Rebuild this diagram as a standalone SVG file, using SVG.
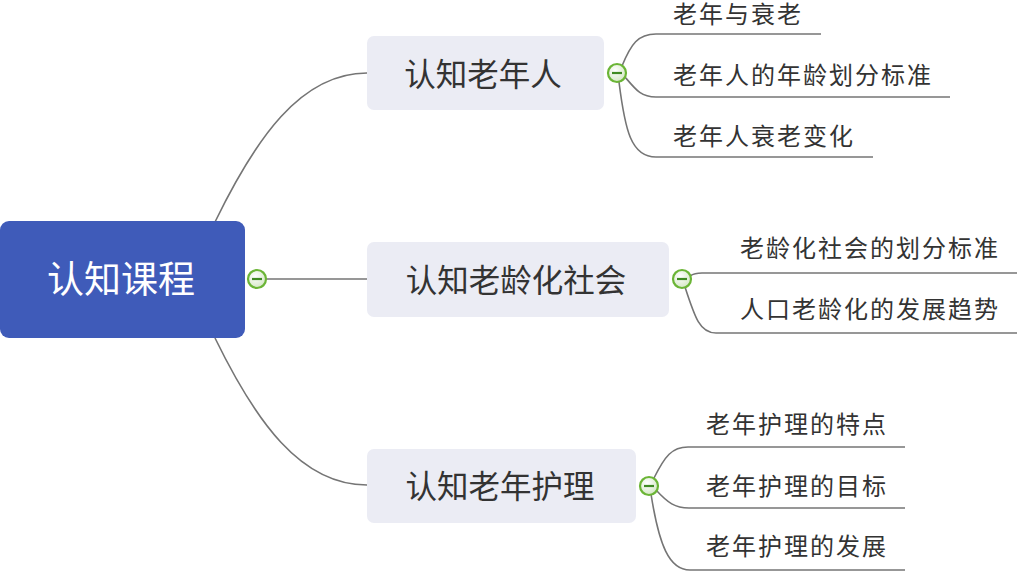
<svg xmlns="http://www.w3.org/2000/svg" width="1017" height="571" viewBox="0 0 1017 571">
<defs>
<radialGradient id="tg" cx="0.4" cy="0.35" r="0.7">
<stop offset="0" stop-color="#ffffff"/>
<stop offset="1" stop-color="#d2e6c2"/>
</radialGradient>
<style>
text{font-family:"Liberation Sans","Noto Sans CJK SC",sans-serif;dominant-baseline:central;}
.root{fill:#3F5BB9;}
.sub{fill:#EBECF4;}
.rt{fill:#ffffff;font-size:37px;text-anchor:middle;}
.st{fill:#333333;font-size:31.5px;text-anchor:middle;}
.lt{fill:#333333;font-size:24px;letter-spacing:2px;}
.ln{fill:none;stroke:#757575;stroke-width:1.6;}
.tc{fill:url(#tg);stroke:#6BB536;stroke-width:2.2;}
.tm{stroke:#3F8A22;stroke-width:2.2;}
</style>
</defs>
<rect width="1017" height="571" fill="#ffffff"/>
<g id="connectors">
<path class="ln" d="M215 222 C255 140 300 73 367 73"/>
<path class="ln" d="M266 279 L367 279"/>
<path class="ln" d="M215 338 C255 420 300 485 367 485"/>
<path class="ln" d="M622 66 C631 44 638 34 656 34 L821 34"/>
<path class="ln" d="M625 77 C636 90 641 97 656 97 L950 97"/>
<path class="ln" d="M619 82 C625 130 631 157 656 157 L873 157"/>
<path class="ln" d="M690 276 C693 274 696 273 702 273 L1017 273"/>
<path class="ln" d="M685 287 C695 318 700 333 716 333 L1017 333"/>
<path class="ln" d="M654 478 C665 456 672 447 688 447 L905 447"/>
<path class="ln" d="M656 490 C668 503 675 508 689 508 L905 508"/>
<path class="ln" d="M651 494 C659 545 669 570 690 570 L905 570"/>
</g>
<g id="root">
<rect class="root" x="0" y="221" width="245" height="117" rx="9"/>
<text class="rt" x="121" y="280">认知课程</text>
<circle class="tc" cx="257" cy="279" r="9"/>
<line class="tm" x1="252" y1="279" x2="262" y2="279"/>
</g>
<g id="node1">
<rect class="sub" x="367" y="36" width="237" height="74" rx="7"/>
<text class="st" x="483" y="75">认知老年人</text>
<circle class="tc" cx="617" cy="73" r="9"/>
<line class="tm" x1="612" y1="73" x2="622" y2="73"/>
</g>
<g id="node2">
<rect class="sub" x="367" y="242" width="302" height="75" rx="7"/>
<text class="st" x="516" y="281">认知老龄化社会</text>
<circle class="tc" cx="682" cy="279" r="9"/>
<line class="tm" x1="677" y1="279" x2="687" y2="279"/>
</g>
<g id="node3">
<rect class="sub" x="367" y="449" width="269" height="74" rx="7"/>
<text class="st" x="500" y="487">认知老年护理</text>
<circle class="tc" cx="649" cy="486" r="9"/>
<line class="tm" x1="644" y1="486" x2="654" y2="486"/>
</g>
<g id="leaf1"><text class="lt" x="673" y="14">老年与衰老</text></g>
<g id="leaf2"><text class="lt" x="673" y="75">老年人的年龄划分标准</text></g>
<g id="leaf3"><text class="lt" x="673" y="136">老年人衰老变化</text></g>
<g id="leaf4"><text class="lt" x="740" y="248">老龄化社会的划分标准</text></g>
<g id="leaf5"><text class="lt" x="740" y="309">人口老龄化的发展趋势</text></g>
<g id="leaf6"><text class="lt" x="706" y="424">老年护理的特点</text></g>
<g id="leaf7"><text class="lt" x="706" y="486">老年护理的目标</text></g>
<g id="leaf8"><text class="lt" x="706" y="546">老年护理的发展</text></g>
</svg>
